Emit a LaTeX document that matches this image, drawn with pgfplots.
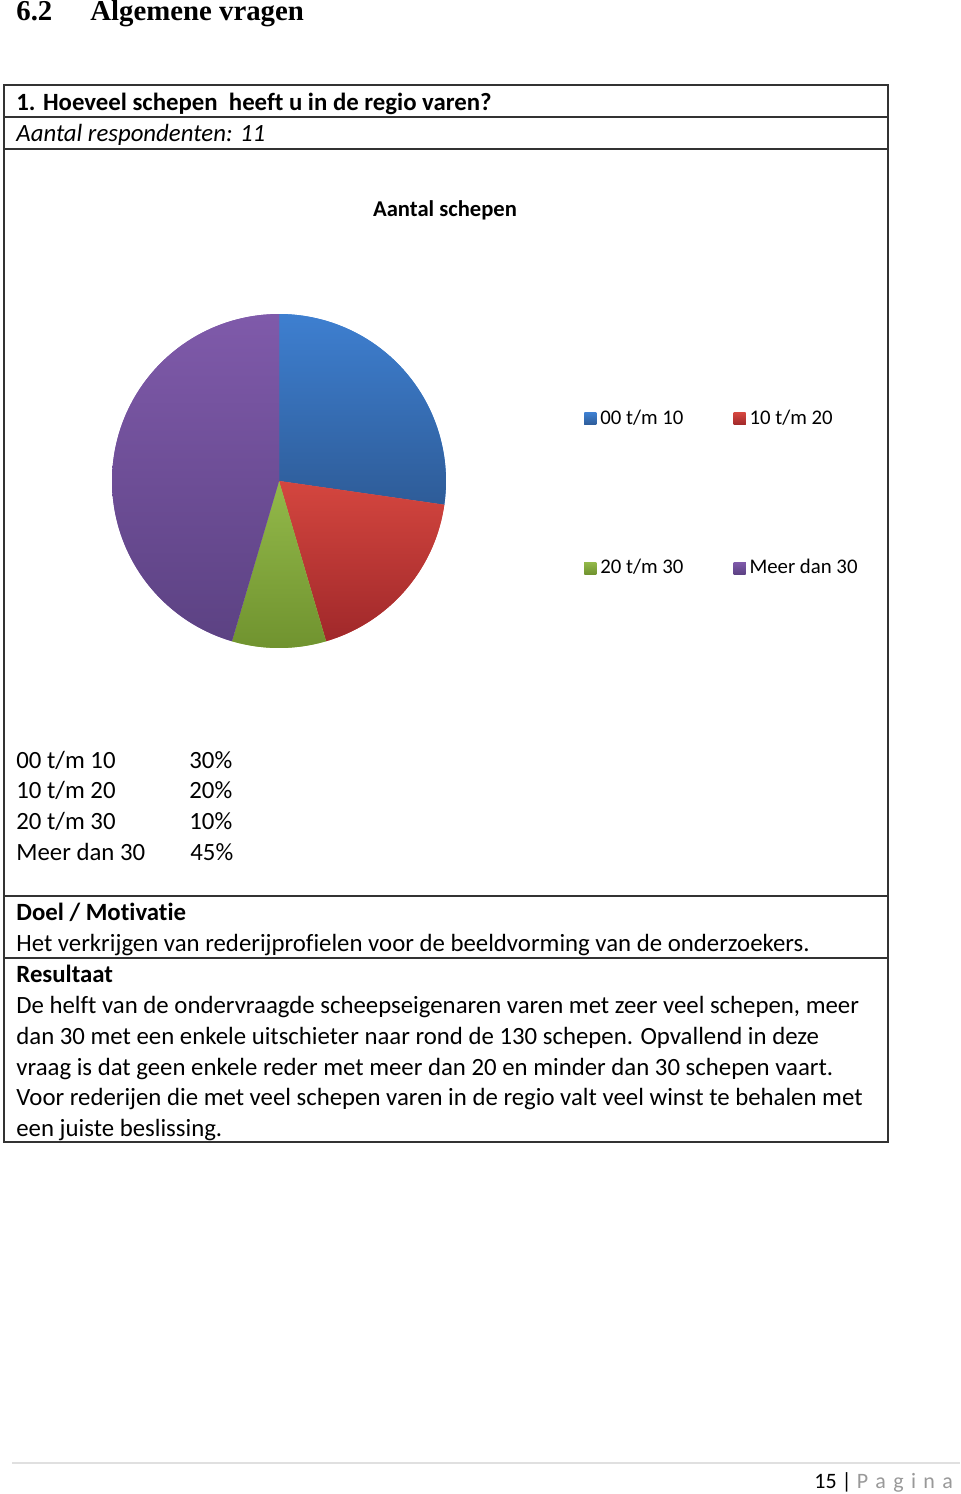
\documentclass[border=0pt]{standalone}
\usepackage{pgfplots}
\usepackage{pgfplotstable}
\pgfplotsset{compat=1.18}
\usepackage{fontspec}
\setmainfont{Carlito}[Ligatures=CommonOff]
\newfontfamily\headfont{Liberation Serif}
\definecolor{bluetop}{HTML}{3E7FD0}
\definecolor{bluebot}{HTML}{2E5C98}
\definecolor{redtop}{HTML}{D4463F}
\definecolor{redbot}{HTML}{A0282A}
\definecolor{greentop}{HTML}{93B94A}
\definecolor{greenbot}{HTML}{70932F}
\definecolor{purptop}{HTML}{7F5AAA}
\definecolor{purpbot}{HTML}{5C4283}
\pgfplotstableread{
idx count
0 3
1 2
2 1
3 5
}\pietable
\pgfplotstablegetelem{0}{count}\of\pietable \let\cA\pgfplotsretval
\pgfplotstablegetelem{1}{count}\of\pietable \let\cB\pgfplotsretval
\pgfplotstablegetelem{2}{count}\of\pietable \let\cC\pgfplotsretval
\pgfplotstablegetelem{3}{count}\of\pietable \let\cD\pgfplotsretval
\pgfmathsetmacro\tot{\cA+\cB+\cC+\cD}
\pgfmathsetmacro\aA{90}
\pgfmathsetmacro\aB{\aA-360*\cA/\tot}
\pgfmathsetmacro\aC{\aB-360*\cB/\tot}
\pgfmathsetmacro\aD{\aC-360*\cC/\tot}
\pgfmathsetmacro\aE{\aD-360*\cD/\tot}
\newcommand\bodyfont{\fontsize{12.4}{15}\selectfont}
\begin{document}
\begin{tikzpicture}
\begin{scope}[x=0.5pt,y=-0.5pt]
\path[use as bounding box] (0,0) rectangle (960,1494);
\coordinate (pc) at (279,481);
% heading
\node[anchor=base west,inner sep=0,font=\headfont\bfseries\fontsize{14.4}{17}\selectfont] at (16,20) {6.2\hspace{19pt}Algemene vragen};
% table frame
\draw[line width=0.6pt,black!80] (4,85) rectangle (888,1142);
\foreach \yy in {117,149,896,958}{\draw[line width=0.6pt,black!80] (4,\yy) -- (888,\yy);}
\begin{scope}[every node/.style={anchor=base west,inner sep=0,font=\bodyfont}]
\node[font=\bfseries\bodyfont] at (16,110) {1. Hoeveel schepen\ \ heeft u in de regio varen?};
\node[font=\itshape\bodyfont] at (16,141) {Aantal respondenten: 11};
\node at (16,768) {00 t/m 10};
\node at (16,798) {10 t/m 20};
\node at (16,829) {20 t/m 30};
\node at (16,860) {Meer dan 30};
\node at (189,768) {30\%};
\node at (189,798) {20\%};
\node at (189,829) {10\%};
\node at (190,860) {45\%};
\node[font=\bfseries\bodyfont] at (16,920) {Doel / Motivatie};
\node at (16,951) {Het verkrijgen van rederijprofielen voor de beeldvorming van de onderzoekers.};
\node[font=\bfseries\bodyfont] at (16,982) {Resultaat};
\node at (16,1013) {De helft van de ondervraagde scheepseigenaren varen met zeer veel schepen, meer};
\node at (16,1044) {dan 30 met een enkele uitschieter naar rond de 130 schepen. Opvallend in deze};
\node at (16,1075) {vraag is dat geen enkele reder met meer dan 20 en minder dan 30 schepen vaart.};
\node at (16,1105) {Voor rederijen die met veel schepen varen in de regio valt veel winst te behalen met};
\node at (16,1136) {een juiste beslissing.};
\end{scope}
\node[anchor=base,inner sep=0,font=\bfseries\fontsize{11.3}{13}\selectfont] at (445,216) {Aantal schepen};
% footer
\draw[black!12,line width=1pt] (12,1463) -- (960,1463);
\node[anchor=base west,inner sep=0,font=\fontsize{11}{13}\selectfont] at (814,1488) {15 \textbar\ \textcolor{black!40}{P\,\,a\,\,g\,\,i\,\,n\,\,a}};
\end{scope}
\begin{axis}[
  at={(pc)}, anchor=center,
  scale only axis, width=167pt, height=167pt,
  xmin=-1, xmax=1, ymin=-1, ymax=1,
  hide axis, clip=false,
  legend columns=2,
  legend cell align=left,
  legend style={draw=none, fill=none, font=\fontsize{10.4}{12}\selectfont,
    at={(axis cs:1.79,0.475)}, anchor=north west,
    /tikz/every even column/.append style={column sep=23pt},
    row sep=62pt},
  legend image code/.code={\path[#1] (0pt,-3pt) rectangle (6pt,3pt);},
]
\addplot[draw=none, top color=bluetop, bottom color=bluebot, fill=bluetop, domain=\aB:\aA, samples=60, variable=\t] ({cos(t)},{sin(t)}) -- (axis cs:0,0) -- cycle;
\addlegendentry{00 t/m 10}
\addplot[draw=none, top color=redtop, bottom color=redbot, fill=redtop, domain=\aC:\aB, samples=60, variable=\t] ({cos(t)},{sin(t)}) -- (axis cs:0,0) -- cycle;
\addlegendentry{10 t/m 20}
\addplot[draw=none, top color=greentop, bottom color=greenbot, fill=greentop, domain=\aD:\aC, samples=30, variable=\t] ({cos(t)},{sin(t)}) -- (axis cs:0,0) -- cycle;
\addlegendentry{20 t/m 30}
\addplot[draw=none, top color=purptop, bottom color=purpbot, fill=purptop, domain=\aE:\aD, samples=90, variable=\t] ({cos(t)},{sin(t)}) -- (axis cs:0,0) -- cycle;
\addlegendentry{Meer dan 30}
\end{axis}
\end{tikzpicture}
\end{document}
